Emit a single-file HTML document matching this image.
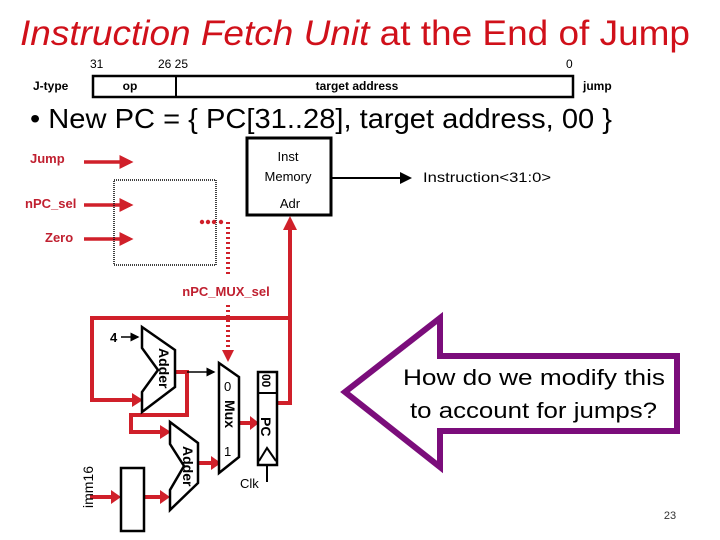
<!DOCTYPE html>
<html><head><meta charset="utf-8"><style>
body{margin:0;background:#fff}
svg{display:block}
text{font-family:"Liberation Sans",sans-serif}
</style></head><body>
<svg width="720" height="540" viewBox="0 0 720 540" xmlns="http://www.w3.org/2000/svg">
<defs>
<marker id="ra" markerWidth="4" markerHeight="4" refX="3" refY="2" orient="auto" markerUnits="strokeWidth"><path d="M0,0 L4,2 L0,4z" fill="#d0202a"/></marker>
<marker id="ba" markerWidth="6" markerHeight="6" refX="5" refY="3" orient="auto" markerUnits="strokeWidth"><path d="M0,0 L6,3 L0,6z" fill="#000"/></marker>
</defs>
<!-- title -->
<text x="20" y="45" font-size="35" fill="#d0101a" textLength="670" lengthAdjust="spacingAndGlyphs"><tspan font-style="italic">Instruction Fetch Unit</tspan> at the End of  Jump</text>
<!-- J-type -->
<g font-size="12" fill="#000">
<text x="90" y="68" font-family="Liberation Serif">31</text>
<text x="158" y="68" font-family="Liberation Serif">26  25</text>
<text x="566" y="68" font-family="Liberation Serif">0</text>
<text x="33" y="90" font-weight="bold">J-type</text>
<text x="130" y="90" font-weight="bold" text-anchor="middle">op</text>
<text x="357" y="90" font-weight="bold" text-anchor="middle">target address</text>
<text x="583" y="90" font-weight="bold">jump</text>
</g>
<rect x="93" y="76" width="480" height="21" fill="none" stroke="#000" stroke-width="2.5"/>
<line x1="176" y1="76" x2="176" y2="97" stroke="#000" stroke-width="2"/>
<text x="30" y="128" font-size="28" fill="#000" textLength="582" lengthAdjust="spacingAndGlyphs">•  New PC = { PC[31..28], target address, 00 }</text>
<!-- control -->
<g font-size="13" font-weight="bold" fill="#c02030">
<text x="30" y="163">Jump</text>
<text x="25" y="208">nPC_sel</text>
<text x="45" y="242">Zero</text>
<text x="226" y="296" text-anchor="middle">nPC_MUX_sel</text>
</g>
<g stroke="#d0202a" stroke-width="3.5" fill="none">
<line x1="84" y1="162" x2="130" y2="162" marker-end="url(#ra)"/>
<line x1="84" y1="205" x2="130" y2="205" marker-end="url(#ra)"/>
<line x1="84" y1="239" x2="130" y2="239" marker-end="url(#ra)"/>
</g>
<rect x="114" y="180" width="102" height="85" fill="none" stroke="#000" stroke-width="1.5" stroke-dasharray="1 1"/>
<g fill="#d0202a">
<circle cx="202" cy="222" r="2.2"/><circle cx="208" cy="222" r="2.2"/><circle cx="214" cy="222" r="2.2"/><circle cx="221" cy="222" r="2.2"/>
</g>
<line x1="228" y1="222" x2="228" y2="275" stroke="#d0202a" stroke-width="4" stroke-dasharray="2 3"/>
<line x1="228" y1="305" x2="228" y2="352" stroke="#d0202a" stroke-width="4" stroke-dasharray="2 3"/>
<path d="M222,350 L234,350 L228,362z" fill="#d0202a"/>
<!-- inst memory -->
<rect x="247" y="138" width="84" height="77" fill="#fff" stroke="#000" stroke-width="3"/>
<g font-size="13" fill="#000" text-anchor="middle">
<text x="288" y="161">Inst</text>
<text x="288" y="181">Memory</text>
<text x="290" y="208">Adr</text>
</g>
<line x1="331" y1="178" x2="410" y2="178" stroke="#000" stroke-width="2" marker-end="url(#ba)"/>
<text x="423" y="182" font-size="14" fill="#000" textLength="128" lengthAdjust="spacingAndGlyphs">Instruction&lt;31:0&gt;</text>
<!-- red loops -->
<g stroke="#d0202a" stroke-width="4" fill="none">
<polyline points="290,228 290,403 277,403"/>
<polyline points="290,318 92,318 92,400 134,400"/>
<polyline points="173,372 187,372 187,415 131,415 131,432 162,432"/>
<line x1="198" y1="463" x2="213" y2="463"/>
<line x1="239" y1="423" x2="252" y2="423"/>
<line x1="90" y1="497" x2="113" y2="497"/>
<line x1="144" y1="497" x2="162" y2="497"/>
</g>
<g fill="#d0202a">
<path d="M283,230 L297,230 L290,216z"/>
<path d="M132,393 L143,400 L132,407z"/>
<path d="M160,425 L171,432 L160,439z"/>
<path d="M211,456 L221,463 L211,470z"/>
<path d="M250,416 L259,423 L250,430z"/>
<path d="M111,490 L121,497 L111,504z"/>
<path d="M160,490 L170,497 L160,504z"/>
</g>
<!-- 4 -->
<text x="110" y="342" font-size="13" font-weight="bold">4</text>
<line x1="121" y1="337" x2="138" y2="337" stroke="#000" stroke-width="1.5" marker-end="url(#ba)"/>
<!-- adder1 -->
<polygon points="142,327 175,350 175,387 142,412 142,392 158,370 142,348" fill="#fff" stroke="#000" stroke-width="2.5"/>
<text x="0" y="0" font-size="14" font-weight="bold" transform="translate(159,348) rotate(90)">Adder</text>
<line x1="187" y1="372" x2="214" y2="372" stroke="#000" stroke-width="1.5" marker-end="url(#ba)"/>
<!-- adder2 -->
<polygon points="170,422 198,443 198,483 170,510 170,490 184,466 170,444" fill="#fff" stroke="#000" stroke-width="2.5"/>
<text x="0" y="0" font-size="14" font-weight="bold" transform="translate(183,446) rotate(90)">Adder</text>
<!-- mux -->
<polygon points="219,363 239,377 239,457 219,473" fill="#fff" stroke="#000" stroke-width="2.5"/>
<text x="224" y="391" font-size="13">0</text>
<text x="224" y="456" font-size="13">1</text>
<text x="0" y="0" font-size="14" font-weight="bold" transform="translate(225,400) rotate(90)">Mux</text>
<!-- PC -->
<rect x="258" y="372" width="19" height="93" fill="#fff" stroke="#000" stroke-width="2.5"/>
<line x1="258" y1="393" x2="277" y2="393" stroke="#000" stroke-width="2"/>
<text x="0" y="0" font-size="12" font-weight="bold" transform="translate(262,374) rotate(90)">00</text>
<text x="0" y="0" font-size="14" font-weight="bold" transform="translate(261,417) rotate(90)">PC</text>
<polyline points="259,461 267,448 276,461" fill="none" stroke="#000" stroke-width="2"/>
<line x1="267" y1="465" x2="267" y2="482" stroke="#000" stroke-width="2"/>
<text x="240" y="488" font-size="13">Clk</text>
<!-- sign extend -->
<rect x="121" y="468" width="23" height="63" fill="#fff" stroke="#000" stroke-width="2.5"/>
<text x="0" y="0" font-size="14" transform="translate(93,508) rotate(-90)">imm16</text>
<!-- purple arrow -->
<polygon points="345,392 440,318 440,356 677,356 677,431 440,431 440,467" fill="#fff" stroke="#7b0d7b" stroke-width="6" stroke-linejoin="miter"/>
<g font-size="22" fill="#000">
<text x="403" y="385" textLength="262" lengthAdjust="spacingAndGlyphs">How do we modify this</text>
<text x="410" y="418" textLength="247" lengthAdjust="spacingAndGlyphs">to account for jumps?</text>
</g>
<text x="670" y="519" font-size="11" fill="#333" text-anchor="middle">23</text>
</svg>
</body></html>
